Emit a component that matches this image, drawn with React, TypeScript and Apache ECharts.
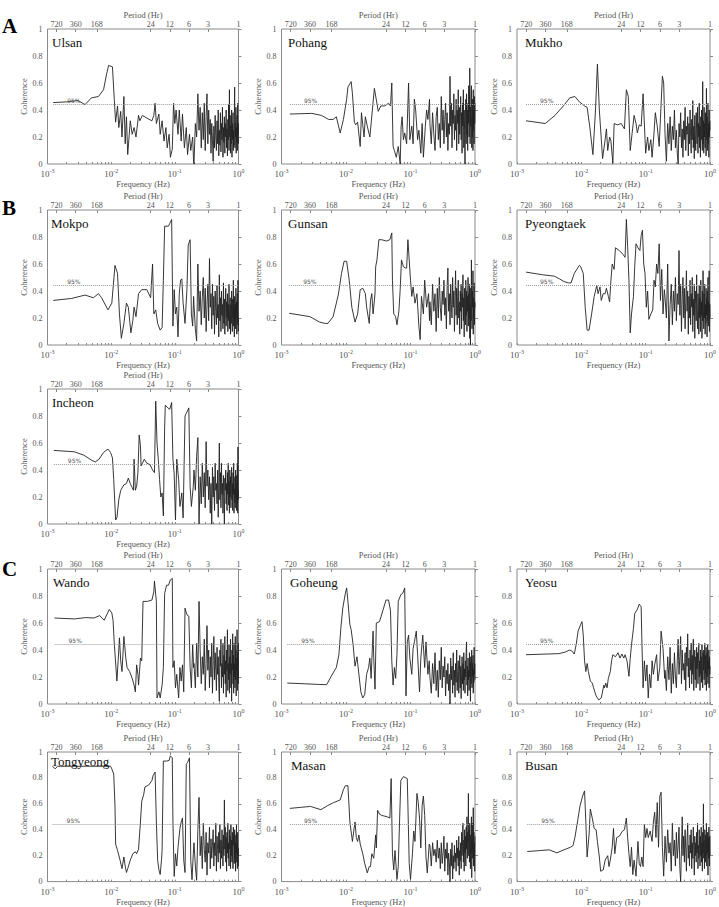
import React, { useEffect, useRef } from "react";
import * as echarts from "echarts";

// Coherence spectra between sea level and wind at Korean tide stations.
// Low-frequency parts are [log10 frequency (Hz), coherence] pairs;
// the high-frequency parts are sampled on a linear 0.01 Hz grid from 0.20 to 1.00 Hz.

const PERIOD_HR = [720, 360, 168, 24, 12, 6, 3, 1];
const FREQ_DECADES = [-3, -2, -1, 0];
const COHERENCE_TICKS = [0, 0.2, 0.4, 0.6, 0.8, 1];
const CONFIDENCE_95 = 0.44;

const DENSE_HZ = Array.from({ length: 81 }, (_, i) => Math.round((0.2 + i * 0.01) * 100) / 100);

const ulsanLow = [[-2.91,0.455],[-2.70,0.46],[-2.52,0.47],[-2.41,0.44],[-2.31,0.49],[-2.20,0.50],[-2.12,0.55],[-2.07,0.67],[-2.04,0.73],[-1.98,0.72],[-1.95,0.47],[-1.93,0.31],[-1.90,0.43],[-1.88,0.27],[-1.85,0.39],[-1.83,0.20],[-1.80,0.50],[-1.78,0.15],[-1.76,0.35],[-1.74,0.07],[-1.70,0.32],[-1.67,0.22],[-1.64,0.27],[-1.61,0.20],[-1.57,0.36],[-1.55,0.32],[-1.51,0.36],[-1.44,0.34],[-1.36,0.32],[-1.33,0.36],[-1.31,0.45],[-1.29,0.30],[-1.25,0.37],[-1.23,0.22],[-1.20,0.32],[-1.17,0.17],[-1.14,0.27],[-1.12,0.12],[-1.09,0.22],[-1.07,0.05],[-1.04,0.11],[-1.02,0.45],[-1.00,0.30],[-0.98,0.40],[-0.95,0.22],[-0.93,0.40],[-0.90,0.17],[-0.88,0.37],[-0.85,0.12],[-0.82,0.27],[-0.80,0.07],[-0.77,0.22],[-0.75,0.10],[-0.72,0.20],[-0.705,0.01]];
const ulsanDense = [
  0.00,0.30,0.20,0.52,0.25,0.42,0.12,0.38,0.18,0.45,
  0.10,0.35,0.52,0.15,0.40,0.22,0.33,0.08,0.30,0.18,
  0.02,0.28,0.12,0.36,0.20,0.10,0.32,0.15,0.40,0.06,
  0.25,0.14,0.38,0.09,0.30,0.18,0.42,0.05,0.27,0.16,
  0.35,0.08,0.30,0.20,0.40,0.12,0.26,0.06,0.33,0.18,
  0.44,0.10,0.55,0.20,0.36,0.08,0.28,0.15,0.40,0.05,
  0.30,0.18,0.38,0.10,0.25,0.14,0.35,0.57,0.12,0.30,
  0.20,0.42,0.08,0.27,0.16,0.36,0.10,0.45,0.22,0.30,
  0.15];

const pohangLow = [[-2.87,0.37],[-2.53,0.375],[-2.38,0.36],[-2.27,0.33],[-2.20,0.33],[-2.15,0.35],[-2.09,0.23],[-2.04,0.33],[-1.99,0.48],[-1.97,0.57],[-1.92,0.61],[-1.90,0.52],[-1.87,0.31],[-1.85,0.29],[-1.82,0.31],[-1.78,0.13],[-1.76,0.38],[-1.72,0.20],[-1.70,0.35],[-1.67,0.28],[-1.63,0.20],[-1.56,0.56],[-1.50,0.39],[-1.46,0.43],[-1.40,0.43],[-1.34,0.45],[-1.31,0.43],[-1.29,0.60],[-1.27,0.13],[-1.25,0.10],[-1.22,0.05],[-1.19,0.13],[-1.16,0.00],[-1.145,0.28],[-1.13,0.35],[-1.11,0.18],[-1.09,0.23],[-1.06,0.15],[-1.03,0.60],[-1.01,0.18],[-0.98,0.28],[-0.96,0.15],[-0.94,0.48],[-0.92,0.40],[-0.89,0.18],[-0.87,0.25],[-0.84,0.08],[-0.82,0.30],[-0.80,0.05],[-0.77,0.28],[-0.75,0.40],[-0.73,0.33],[-0.705,0.48]];
const pohangDense = [
  0.30,0.15,0.38,0.22,0.10,0.35,0.42,0.18,0.30,0.12,
  0.50,0.25,0.40,0.15,0.33,0.45,0.20,0.38,0.10,0.30,
  0.22,0.65,0.28,0.45,0.12,0.40,0.30,0.52,0.18,0.36,
  0.25,0.48,0.10,0.40,0.30,0.55,0.15,0.42,0.22,0.35,
  0.50,0.18,0.38,0.08,0.45,0.28,0.55,0.12,0.40,0.25,
  0.00,0.35,0.48,0.15,0.52,0.22,0.40,0.10,0.45,0.30,
  0.58,0.20,0.38,0.71,0.15,0.42,0.28,0.50,0.58,0.12,
  0.35,0.20,0.48,0.10,0.55,0.25,0.40,0.15,0.50,0.30,
  0.45];

const mukhoLow = [[-2.86,0.32],[-2.56,0.30],[-2.41,0.36],[-2.28,0.43],[-2.18,0.49],[-2.10,0.50],[-2.03,0.46],[-1.95,0.43],[-1.91,0.42],[-1.87,0.28],[-1.82,0.07],[-1.78,0.40],[-1.75,0.74],[-1.72,0.40],[-1.67,0.04],[-1.63,0.18],[-1.61,0.26],[-1.59,0.10],[-1.56,0.20],[-1.54,0.17],[-1.51,0.005],[-1.49,0.30],[-1.44,0.29],[-1.38,0.30],[-1.33,0.26],[-1.30,0.55],[-1.27,0.50],[-1.24,0.10],[-1.21,0.23],[-1.18,0.36],[-1.15,0.30],[-1.13,0.23],[-1.10,0.29],[-1.07,0.28],[-1.04,0.52],[-1.03,0.40],[-1.00,0.08],[-0.97,0.20],[-0.95,0.10],[-0.92,0.18],[-0.90,0.05],[-0.87,0.23],[-0.85,0.38],[-0.82,0.28],[-0.79,0.13],[-0.77,0.34],[-0.74,0.65],[-0.72,0.60],[-0.705,0.33]];
const mukhoDense = [
  0.22,0.02,0.30,0.15,0.35,0.10,0.28,0.18,0.40,0.12,
  0.25,0.08,0.00,0.30,0.20,0.38,0.12,0.26,0.05,0.32,
  0.18,0.42,0.10,0.28,0.22,0.35,0.06,0.30,0.15,0.40,
  0.20,0.08,0.33,0.18,0.47,0.12,0.28,0.04,0.36,0.22,
  0.10,0.38,0.25,0.15,0.42,0.08,0.30,0.20,0.45,0.12,
  0.28,0.05,0.35,0.18,0.40,0.22,0.10,0.61,0.15,0.32,
  0.08,0.42,0.20,0.30,0.12,0.38,0.25,0.06,0.56,0.18,
  0.35,0.10,0.28,0.45,0.15,0.30,0.05,0.40,0.20,0.32,
  0.25];

const mokpoLow = [[-2.91,0.33],[-2.62,0.345],[-2.41,0.37],[-2.28,0.35],[-2.20,0.38],[-2.15,0.35],[-2.05,0.26],[-1.99,0.31],[-1.94,0.59],[-1.90,0.53],[-1.87,0.23],[-1.84,0.05],[-1.80,0.16],[-1.76,0.31],[-1.73,0.28],[-1.69,0.09],[-1.66,0.18],[-1.64,0.28],[-1.61,0.21],[-1.57,0.38],[-1.52,0.41],[-1.44,0.41],[-1.38,0.35],[-1.35,0.60],[-1.33,0.23],[-1.30,0.26],[-1.27,0.16],[-1.23,0.11],[-1.20,0.13],[-1.18,0.48],[-1.16,0.88],[-1.10,0.88],[-1.08,0.90],[-1.05,0.93],[-1.03,0.14],[-1.01,0.41],[-0.99,0.23],[-0.97,0.28],[-0.95,0.06],[-0.93,0.38],[-0.91,0.48],[-0.89,0.49],[-0.87,0.31],[-0.84,0.16],[-0.81,0.41],[-0.79,0.74],[-0.76,0.78],[-0.74,0.23],[-0.72,0.14],[-0.705,0.36]];
const mokpoDense = [
  0.30,0.12,0.03,0.60,0.25,0.40,0.15,0.35,0.50,0.20,
  0.42,0.10,0.30,0.45,0.18,0.64,0.28,0.38,0.12,0.45,
  0.22,0.36,0.08,0.40,0.25,0.15,0.44,0.20,0.30,0.06,
  0.52,0.18,0.35,0.10,0.40,0.22,0.30,0.12,0.46,0.16,
  0.34,0.08,0.28,0.42,0.14,0.32,0.20,0.38,0.10,0.30,
  0.18,0.45,0.12,0.26,0.35,0.08,0.30,0.16,0.40,0.22,
  0.10,0.34,0.20,0.48,0.14,0.28,0.06,0.36,0.18,0.30,
  0.12,0.42,0.20,0.32,0.08,0.26,0.38,0.15,0.48,0.10,
  0.20];

const gunsanLow = [[-2.88,0.235],[-2.56,0.21],[-2.41,0.17],[-2.33,0.16],[-2.28,0.16],[-2.20,0.21],[-2.12,0.37],[-2.07,0.53],[-2.03,0.62],[-1.99,0.62],[-1.95,0.48],[-1.91,0.28],[-1.86,0.17],[-1.82,0.23],[-1.78,0.41],[-1.74,0.42],[-1.70,0.38],[-1.68,0.28],[-1.64,0.16],[-1.62,0.33],[-1.60,0.38],[-1.58,0.23],[-1.55,0.38],[-1.54,0.58],[-1.52,0.63],[-1.49,0.78],[-1.45,0.78],[-1.37,0.77],[-1.32,0.78],[-1.29,0.83],[-1.28,0.48],[-1.26,0.23],[-1.23,0.21],[-1.21,0.15],[-1.18,0.25],[-1.16,0.41],[-1.14,0.63],[-1.11,0.58],[-1.08,0.57],[-1.06,0.57],[-1.04,0.78],[-1.02,0.63],[-1.00,0.48],[-0.98,0.36],[-0.96,0.43],[-0.93,0.31],[-0.90,0.38],[-0.87,0.14],[-0.85,0.04],[-0.83,0.36],[-0.80,0.23],[-0.78,0.48],[-0.75,0.28],[-0.72,0.38],[-0.705,0.18]];
const gunsanDense = [
  0.32,0.15,0.45,0.25,0.38,0.10,0.42,0.20,0.50,0.28,
  0.18,0.40,0.30,0.48,0.22,0.35,0.12,0.44,0.57,0.25,
  0.38,0.15,0.45,0.30,0.20,0.50,0.28,0.40,0.10,0.35,
  0.55,0.22,0.42,0.15,0.36,0.48,0.20,0.32,0.08,0.40,
  0.25,0.45,0.12,0.38,0.28,0.52,0.18,0.35,0.06,0.42,
  0.30,0.15,0.48,0.22,0.40,0.10,0.36,0.25,0.50,0.14,
  0.38,0.20,0.45,0.05,0.30,0.00,0.42,0.18,0.63,0.25,
  0.12,0.40,0.28,0.55,0.08,0.35,0.20,0.46,0.15,0.32,
  0.28];

const pyeongtaekLow = [[-2.86,0.54],[-2.60,0.52],[-2.42,0.51],[-2.34,0.49],[-2.27,0.47],[-2.20,0.46],[-2.16,0.46],[-2.11,0.53],[-2.03,0.59],[-2.01,0.58],[-1.97,0.53],[-1.94,0.28],[-1.91,0.11],[-1.88,0.11],[-1.84,0.23],[-1.80,0.36],[-1.76,0.44],[-1.74,0.38],[-1.71,0.43],[-1.69,0.33],[-1.66,0.38],[-1.63,0.38],[-1.61,0.42],[-1.58,0.36],[-1.56,0.32],[-1.54,0.48],[-1.52,0.60],[-1.49,0.56],[-1.47,0.72],[-1.41,0.70],[-1.35,0.67],[-1.32,0.65],[-1.30,0.93],[-1.28,0.73],[-1.26,0.48],[-1.24,0.09],[-1.22,0.23],[-1.19,0.36],[-1.17,0.58],[-1.15,0.75],[-1.12,0.72],[-1.09,0.70],[-1.07,0.81],[-1.05,0.85],[-1.03,0.60],[-1.01,0.53],[-0.99,0.28],[-0.97,0.40],[-0.95,0.19],[-0.92,0.23],[-0.89,0.26],[-0.87,0.48],[-0.85,0.43],[-0.83,0.60],[-0.81,0.53],[-0.79,0.75],[-0.77,0.33],[-0.75,0.56],[-0.73,0.23],[-0.71,0.41]];
const pyeongtaekDense = [
  0.35,0.20,0.60,0.03,0.30,0.45,0.15,0.40,0.25,0.50,
  0.18,0.38,0.30,0.70,0.22,0.45,0.10,0.35,0.50,0.20,
  0.42,0.12,0.32,0.55,0.25,0.40,0.08,0.36,0.20,0.48,
  0.15,0.38,0.28,0.50,0.10,0.34,0.22,0.45,0.05,0.30,
  0.40,0.18,0.52,0.25,0.12,0.38,0.30,0.08,0.44,0.20,
  0.35,0.10,0.48,0.22,0.32,0.05,0.40,0.18,0.55,0.26,
  0.12,0.38,0.20,0.45,0.08,0.30,0.16,0.42,0.22,0.35,
  0.06,0.40,0.18,0.50,0.14,0.32,0.25,0.55,0.10,0.30,
  0.20];

const incheonLow = [[-2.90,0.545],[-2.58,0.535],[-2.43,0.51],[-2.30,0.47],[-2.25,0.46],[-2.19,0.48],[-2.12,0.53],[-2.05,0.555],[-2.01,0.53],[-1.98,0.49],[-1.96,0.33],[-1.93,0.03],[-1.91,0.045],[-1.88,0.18],[-1.85,0.25],[-1.80,0.29],[-1.76,0.30],[-1.73,0.34],[-1.70,0.30],[-1.67,0.27],[-1.65,0.25],[-1.64,0.48],[-1.62,0.25],[-1.60,0.28],[-1.58,0.38],[-1.56,0.66],[-1.54,0.58],[-1.53,0.43],[-1.51,0.45],[-1.48,0.48],[-1.44,0.45],[-1.39,0.44],[-1.35,0.40],[-1.32,0.38],[-1.30,0.91],[-1.28,0.60],[-1.26,0.48],[-1.24,0.33],[-1.22,0.20],[-1.20,0.23],[-1.18,0.06],[-1.16,0.72],[-1.15,0.88],[-1.11,0.86],[-1.08,0.85],[-1.05,0.90],[-1.03,0.48],[-1.01,0.37],[-0.99,0.03],[-0.97,0.48],[-0.94,0.33],[-0.92,0.13],[-0.89,0.23],[-0.87,0.045],[-0.84,0.80],[-0.82,0.82],[-0.78,0.86],[-0.76,0.28],[-0.74,0.13],[-0.71,0.28]];
const incheonDense = [
  0.40,0.25,0.50,0.64,0.00,0.35,0.15,0.45,0.20,0.38,
  0.12,0.61,0.28,0.40,0.18,0.35,0.08,0.30,0.00,0.42,
  0.20,0.35,0.10,0.45,0.25,0.30,0.15,0.40,0.05,0.32,
  0.60,0.18,0.38,0.12,0.45,0.22,0.30,0.08,0.36,0.20,
  0.00,0.34,0.25,0.40,0.15,0.30,0.10,0.38,0.22,0.45,
  0.14,0.32,0.08,0.40,0.20,0.35,0.12,0.28,0.42,0.18,
  0.30,0.10,0.38,0.22,0.45,0.08,0.26,0.16,0.35,0.12,
  0.40,0.20,0.30,0.10,0.36,0.15,0.45,0.08,0.57,0.18,
  0.25];

const wandoLow = [[-2.89,0.637],[-2.58,0.63],[-2.40,0.64],[-2.27,0.637],[-2.18,0.655],[-2.11,0.62],[-2.03,0.70],[-1.99,0.675],[-1.97,0.62],[-1.95,0.44],[-1.91,0.17],[-1.89,0.32],[-1.87,0.49],[-1.85,0.32],[-1.83,0.24],[-1.80,0.50],[-1.77,0.34],[-1.75,0.27],[-1.71,0.24],[-1.67,0.19],[-1.64,0.14],[-1.62,0.09],[-1.60,0.29],[-1.58,0.22],[-1.57,0.14],[-1.54,0.34],[-1.52,0.32],[-1.50,0.76],[-1.43,0.76],[-1.36,0.77],[-1.33,0.83],[-1.32,0.91],[-1.29,0.76],[-1.28,0.045],[-1.25,0.09],[-1.23,0.045],[-1.20,0.14],[-1.18,0.27],[-1.16,0.82],[-1.13,0.88],[-1.10,0.88],[-1.07,0.92],[-1.04,0.93],[-1.03,0.27],[-1.01,0.32],[-0.99,0.12],[-0.97,0.22],[-0.94,0.045],[-0.92,0.27],[-0.90,0.17],[-0.88,0.29],[-0.86,0.09],[-0.84,0.71],[-0.81,0.66],[-0.78,0.65],[-0.76,0.27],[-0.74,0.12],[-0.72,0.44],[-0.705,0.27]];
const wandoDense = [
  0.30,0.12,0.45,0.20,0.76,0.40,0.15,0.35,0.22,0.48,
  0.10,0.30,0.58,0.25,0.40,0.12,0.35,0.20,0.45,0.08,
  0.32,0.50,0.18,0.38,0.25,0.10,0.42,0.22,0.35,0.15,
  0.02,0.40,0.28,0.48,0.12,0.30,0.20,0.45,0.08,0.36,
  0.22,0.50,0.15,0.32,0.05,0.40,0.25,0.55,0.10,0.30,
  0.18,0.44,0.08,0.35,0.22,0.48,0.12,0.30,0.02,0.40,
  0.25,0.52,0.15,0.36,0.08,0.45,0.20,0.30,0.12,0.50,
  0.18,0.40,0.06,0.34,0.25,0.55,0.10,0.38,0.20,0.45,
  0.15];

const goheungLow = [[-2.91,0.155],[-2.64,0.15],[-2.43,0.145],[-2.30,0.143],[-2.23,0.205],[-2.15,0.27],[-2.11,0.365],[-2.08,0.56],[-2.05,0.71],[-2.01,0.82],[-1.99,0.86],[-1.97,0.76],[-1.94,0.59],[-1.92,0.55],[-1.89,0.44],[-1.86,0.28],[-1.83,0.35],[-1.80,0.22],[-1.77,0.09],[-1.74,0.045],[-1.71,0.07],[-1.68,0.22],[-1.65,0.27],[-1.63,0.34],[-1.61,0.19],[-1.60,0.32],[-1.58,0.54],[-1.57,0.34],[-1.55,0.11],[-1.53,0.60],[-1.48,0.61],[-1.43,0.69],[-1.38,0.77],[-1.34,0.77],[-1.31,0.69],[-1.29,0.32],[-1.27,0.14],[-1.25,0.27],[-1.23,0.19],[-1.21,0.365],[-1.19,0.76],[-1.15,0.81],[-1.12,0.82],[-1.09,0.86],[-1.07,0.06],[-1.05,0.46],[-1.03,0.51],[-1.01,0.34],[-0.98,0.22],[-0.96,0.41],[-0.94,0.46],[-0.91,0.54],[-0.89,0.365],[-0.86,0.09],[-0.84,0.34],[-0.81,0.51],[-0.78,0.27],[-0.76,0.46],[-0.73,0.22],[-0.71,0.32]];
const goheungDense = [
  0.20,0.08,0.30,0.15,0.38,0.10,0.25,0.05,0.32,0.18,
  0.42,0.12,0.28,0.20,0.35,0.06,0.25,0.15,0.30,0.10,
  0.22,0.00,0.34,0.18,0.28,0.08,0.38,0.14,0.25,0.05,
  0.30,0.16,0.40,0.10,0.24,0.32,0.08,0.20,0.36,0.12,
  0.28,0.04,0.22,0.35,0.15,0.30,0.10,0.38,0.18,0.26,
  0.08,0.32,0.20,0.40,0.46,0.14,0.28,0.06,0.34,0.18,
  0.25,0.10,0.38,0.20,0.30,0.02,0.35,0.15,0.28,0.40,
  0.12,0.30,0.20,0.36,0.08,0.26,0.16,0.42,0.22,0.30,
  0.18];

const yeosuLow = [[-2.86,0.365],[-2.55,0.37],[-2.35,0.373],[-2.25,0.385],[-2.18,0.40],[-2.14,0.39],[-2.11,0.37],[-2.08,0.44],[-2.05,0.54],[-2.01,0.59],[-1.99,0.61],[-1.97,0.51],[-1.95,0.32],[-1.93,0.24],[-1.91,0.30],[-1.89,0.24],[-1.86,0.17],[-1.83,0.155],[-1.81,0.12],[-1.77,0.06],[-1.73,0.03],[-1.69,0.045],[-1.65,0.14],[-1.64,0.12],[-1.62,0.155],[-1.60,0.12],[-1.58,0.19],[-1.55,0.24],[-1.53,0.32],[-1.51,0.365],[-1.47,0.35],[-1.43,0.38],[-1.40,0.34],[-1.37,0.37],[-1.34,0.34],[-1.32,0.365],[-1.29,0.32],[-1.26,0.205],[-1.24,0.34],[-1.22,0.44],[-1.19,0.56],[-1.17,0.67],[-1.13,0.70],[-1.10,0.74],[-1.07,0.72],[-1.06,0.49],[-1.04,0.12],[-1.02,0.32],[-1.00,0.17],[-0.98,0.29],[-0.96,0.045],[-0.94,0.22],[-0.92,0.12],[-0.90,0.32],[-0.88,0.22],[-0.86,0.29],[-0.83,0.365],[-0.81,0.17],[-0.78,0.27],[-0.76,0.54],[-0.73,0.41],[-0.705,0.19]];
const yeosuDense = [
  0.25,0.10,0.35,0.18,0.42,0.08,0.30,0.15,0.38,0.20,
  0.12,0.32,0.48,0.22,0.35,0.50,0.15,0.40,0.25,0.30,
  0.18,0.38,0.10,0.42,0.28,0.52,0.20,0.34,0.12,0.40,
  0.25,0.45,0.15,0.36,0.22,0.48,0.10,0.30,0.40,0.18,
  0.35,0.12,0.42,0.26,0.38,0.15,0.30,0.45,0.20,0.32,
  0.10,0.40,0.22,0.35,0.16,0.44,0.28,0.12,0.38,0.25,
  0.40,0.18,0.32,0.45,0.14,0.36,0.22,0.42,0.10,0.30,
  0.38,0.20,0.44,0.15,0.32,0.26,0.40,0.12,0.35,0.22,
  0.28];

const tongyeongLow = [[-2.92,0.89],[-2.88,0.87],[-2.84,0.89],[-2.43,0.89],[-2.01,0.89],[-1.99,0.87],[-1.96,0.83],[-1.94,0.585],[-1.93,0.29],[-1.90,0.24],[-1.86,0.165],[-1.83,0.10],[-1.80,0.19],[-1.78,0.12],[-1.76,0.07],[-1.74,0.10],[-1.70,0.165],[-1.66,0.215],[-1.62,0.23],[-1.60,0.215],[-1.57,0.25],[-1.54,0.46],[-1.52,0.62],[-1.49,0.67],[-1.47,0.73],[-1.41,0.745],[-1.36,0.78],[-1.34,0.82],[-1.31,0.845],[-1.29,0.46],[-1.27,0.165],[-1.25,0.09],[-1.23,0.055],[-1.21,0.165],[-1.20,0.24],[-1.18,0.93],[-1.13,0.93],[-1.09,0.935],[-1.07,0.97],[-1.04,0.955],[-1.03,0.46],[-1.01,0.04],[-0.99,0.215],[-0.97,0.12],[-0.95,0.265],[-0.92,0.41],[-0.90,0.46],[-0.88,0.49],[-0.86,0.165],[-0.84,0.07],[-0.82,0.905],[-0.80,0.92],[-0.77,0.955],[-0.75,0.165],[-0.73,0.015],[-0.71,0.215]];
const tongyeongDense = [
  0.30,0.12,0.01,0.40,0.65,0.20,0.35,0.10,0.45,0.25,
  0.15,0.38,0.05,0.30,0.22,0.42,0.10,0.33,0.18,0.28,
  0.40,0.12,0.30,0.20,0.45,0.08,0.35,0.25,0.15,0.38,
  0.22,0.44,0.10,0.32,0.18,0.40,0.28,0.12,0.36,0.20,
  0.63,0.25,0.42,0.15,0.34,0.08,0.38,0.22,0.45,0.18,
  0.30,0.12,0.40,0.25,0.35,0.10,0.44,0.20,0.32,0.15,
  0.38,0.22,0.10,0.42,0.28,0.35,0.14,0.40,0.18,0.30,
  0.08,0.36,0.22,0.44,0.15,0.30,0.10,0.38,0.20,0.26,
  0.12];

const masanLow = [[-2.87,0.565],[-2.70,0.573],[-2.55,0.58],[-2.39,0.555],[-2.29,0.585],[-2.19,0.61],[-2.09,0.63],[-2.04,0.71],[-2.01,0.74],[-1.97,0.74],[-1.94,0.46],[-1.90,0.31],[-1.88,0.39],[-1.86,0.46],[-1.84,0.34],[-1.82,0.31],[-1.80,0.36],[-1.78,0.29],[-1.74,0.215],[-1.71,0.14],[-1.67,0.067],[-1.64,0.116],[-1.62,0.116],[-1.60,0.215],[-1.57,0.18],[-1.54,0.36],[-1.53,0.26],[-1.51,0.55],[-1.48,0.52],[-1.44,0.51],[-1.36,0.50],[-1.32,0.49],[-1.30,0.795],[-1.28,0.215],[-1.26,0.09],[-1.24,0.24],[-1.21,0.017],[-1.19,0.116],[-1.17,0.46],[-1.15,0.78],[-1.11,0.81],[-1.05,0.795],[-1.04,0.585],[-1.02,0.14],[-1.00,0.017],[-0.97,0.215],[-0.95,0.39],[-0.93,0.31],[-0.90,0.68],[-0.88,0.61],[-0.86,0.49],[-0.84,0.26],[-0.82,0.585],[-0.80,0.66],[-0.78,0.51],[-0.76,0.19],[-0.74,0.067],[-0.71,0.29]];
const masanDense = [
  0.28,0.12,0.30,0.20,0.25,0.15,0.32,0.18,0.26,0.10,
  0.30,0.14,0.22,0.35,0.08,0.25,0.18,0.30,0.05,0.22,
  0.15,0.00,0.25,0.12,0.30,0.02,0.20,0.10,0.28,0.15,
  0.22,0.08,0.32,0.18,0.26,0.12,0.35,0.05,0.24,0.16,
  0.30,0.10,0.38,0.20,0.28,0.45,0.15,0.32,0.08,0.40,
  0.22,0.35,0.12,0.42,0.25,0.50,0.18,0.38,0.30,0.68,
  0.20,0.40,0.15,0.45,0.28,0.10,0.36,0.22,0.50,0.03,
  0.32,0.18,0.45,0.25,0.57,0.12,0.38,0.20,0.30,0.08,
  0.35];

const busanLow = [[-2.84,0.232],[-2.63,0.24],[-2.50,0.245],[-2.38,0.222],[-2.27,0.245],[-2.17,0.265],[-2.13,0.277],[-2.10,0.34],[-2.06,0.46],[-2.02,0.585],[-1.98,0.66],[-1.95,0.70],[-1.93,0.46],[-1.91,0.19],[-1.88,0.36],[-1.86,0.56],[-1.83,0.49],[-1.80,0.41],[-1.77,0.40],[-1.75,0.31],[-1.72,0.19],[-1.70,0.08],[-1.66,0.09],[-1.63,0.165],[-1.59,0.20],[-1.57,0.116],[-1.55,0.165],[-1.52,0.265],[-1.50,0.41],[-1.48,0.215],[-1.45,0.34],[-1.41,0.35],[-1.36,0.39],[-1.33,0.40],[-1.30,0.49],[-1.28,0.34],[-1.26,0.215],[-1.24,0.116],[-1.22,0.265],[-1.20,0.054],[-1.18,0.165],[-1.15,0.042],[-1.12,0.31],[-1.10,0.14],[-1.08,0.116],[-1.06,0.19],[-1.04,0.116],[-1.02,0.44],[-1.00,0.34],[-0.98,0.41],[-0.96,0.34],[-0.93,0.39],[-0.90,0.31],[-0.88,0.46],[-0.86,0.535],[-0.84,0.34],[-0.82,0.61],[-0.80,0.265],[-0.78,0.66],[-0.76,0.69],[-0.74,0.265],[-0.72,0.042]];
const busanDense = [
  0.35,0.15,0.40,0.22,0.30,0.08,0.45,0.20,0.32,0.12,
  0.38,0.18,0.28,0.42,0.10,0.00,0.25,0.50,0.20,0.35,
  0.15,0.40,0.25,0.08,0.32,0.45,0.18,0.28,0.12,0.36,
  0.22,0.40,0.10,0.30,0.18,0.42,0.25,0.05,0.35,0.20,
  0.30,0.15,0.38,0.22,0.45,0.10,0.28,0.18,0.40,0.25,
  0.12,0.35,0.20,0.42,0.15,0.30,0.08,0.38,0.22,0.60,
  0.18,0.32,0.10,0.40,0.25,0.15,0.36,0.20,0.45,0.12,
  0.30,0.22,0.38,0.05,0.34,0.18,0.42,0.25,0.12,0.35,
  0.20];

// Page layout: three columns, five rows of panels.
const COL_LEFT = [47.5, 281.5, 517];
const COL_WIDTH = [191, 193.5, 194];
const ROW_TOP = [29, 210, 389, 569, 752];
const ROW_HEIGHT = 135;

const panels = [
  { name: "Ulsan", low: ulsanLow, dense: ulsanDense, row: 0, col: 0, nameX: 52, nameDy: 13.5 },
  { name: "Pohang", low: pohangLow, dense: pohangDense, row: 0, col: 1, nameX: 288, nameDy: 13.5 },
  { name: "Mukho", low: mukhoLow, dense: mukhoDense, row: 0, col: 2, nameX: 525, nameDy: 13.5 },
  { name: "Mokpo", low: mokpoLow, dense: mokpoDense, row: 1, col: 0, nameX: 51, nameDy: 13.5 },
  { name: "Gunsan", low: gunsanLow, dense: gunsanDense, row: 1, col: 1, nameX: 288, nameDy: 13.5 },
  { name: "Pyeongtaek", low: pyeongtaekLow, dense: pyeongtaekDense, row: 1, col: 2, nameX: 525, nameDy: 13.5 },
  { name: "Incheon", low: incheonLow, dense: incheonDense, row: 2, col: 0, nameX: 52, nameDy: 13.5 },
  { name: "Wando", low: wandoLow, dense: wandoDense, row: 3, col: 0, nameX: 53, nameDy: 13.5 },
  { name: "Goheung", low: goheungLow, dense: goheungDense, row: 3, col: 1, nameX: 290, nameDy: 13.5 },
  { name: "Yeosu", low: yeosuLow, dense: yeosuDense, row: 3, col: 2, nameX: 525, nameDy: 13.5 },
  { name: "Tongyeong", low: tongyeongLow, dense: tongyeongDense, row: 4, col: 0, nameX: 51, nameDy: 9 },
  { name: "Masan", low: masanLow, dense: masanDense, row: 4, col: 1, nameX: 291, nameDy: 13.5 },
  { name: "Busan", low: busanLow, dense: busanDense, row: 4, col: 2, nameX: 525, nameDy: 13.5 },
];

const groupLetters = [
  { text: "A", x: 2, y: 25.5 },
  { text: "B", x: 2, y: 207.5 },
  { text: "C", x: 2, y: 568.5 },
];

const SERIF = '"Liberation Serif", "Times New Roman", serif';
const AXIS_TEXT = "#555";
const FRAME = "#8a8a8a";

// bottom-axis ticks: decades plus 2..9 minor ticks on the log scale
const freqTicks: number[] = [];
FREQ_DECADES.slice(0, -1).forEach((e) => {
  for (let k = 1; k <= 9; k++) freqTicks.push(e + Math.log10(k));
});
freqTicks.push(0);
const periodPositions = PERIOD_HR.map((p) => -Math.log10(p));

function buildOption() {
  const grid: any[] = [];
  const xAxis: any[] = [];
  const yAxis: any[] = [];
  const series: any[] = [];

  panels.forEach((p, i) => {
    grid.push({
      left: COL_LEFT[p.col],
      top: ROW_TOP[p.row],
      width: COL_WIDTH[p.col],
      height: ROW_HEIGHT,
      show: true,
      borderColor: FRAME,
      borderWidth: 1,
      backgroundColor: "transparent",
    });
    xAxis.push({
      type: "value",
      gridIndex: i,
      position: "bottom",
      min: -3,
      max: 0,
      axisLine: { show: false },
      splitLine: { show: false },
      axisTick: { inside: true, length: 2, customValues: freqTicks, lineStyle: { color: FRAME } },
      axisLabel: {
        customValues: FREQ_DECADES,
        margin: 4,
        formatter: (v: number) => `{b|10}{s|${v}}`,
        rich: {
          b: { fontSize: 9, fontFamily: SERIF, color: AXIS_TEXT, lineHeight: 12 },
          s: { fontSize: 6, fontFamily: SERIF, color: AXIS_TEXT, verticalAlign: "top", lineHeight: 8 },
        },
      },
      name: "Frequency (Hz)",
      nameLocation: "middle",
      nameGap: 15,
      nameTextStyle: { fontSize: 8.5, fontFamily: SERIF, color: AXIS_TEXT },
    });
    xAxis.push({
      type: "value",
      gridIndex: i,
      position: "top",
      min: -3,
      max: 0,
      axisLine: { show: false },
      splitLine: { show: false },
      axisTick: { inside: true, length: 3, customValues: periodPositions, lineStyle: { color: FRAME } },
      axisLabel: {
        customValues: periodPositions,
        margin: 1,
        fontSize: 8,
        fontFamily: SERIF,
        color: AXIS_TEXT,
        formatter: (v: number) => String(Math.round(Math.pow(10, -v))),
      },
      name: "Period (Hr)",
      nameLocation: "middle",
      nameGap: 10,
      nameTextStyle: { fontSize: 8.5, fontFamily: SERIF, color: AXIS_TEXT },
    });
    yAxis.push({
      type: "value",
      gridIndex: i,
      min: 0,
      max: 1,
      interval: 0.2,
      axisLine: { show: false },
      splitLine: { show: false },
      axisTick: { inside: true, length: 3, lineStyle: { color: FRAME } },
      axisLabel: {
        customValues: COHERENCE_TICKS,
        margin: 5,
        fontSize: 8,
        fontFamily: SERIF,
        color: AXIS_TEXT,
        formatter: (v: number) => (v === 0 ? "0" : v === 1 ? "1" : v.toFixed(1)),
      },
      name: "Coherence",
      nameLocation: "middle",
      nameGap: 12,
      nameTextStyle: { fontSize: 8.5, fontFamily: SERIF, color: AXIS_TEXT },
    });

    const data = p.low.concat(p.dense.map((v, k) => [Math.log10(DENSE_HZ[k]), v]));
    const start = p.low[0][0];
    series.push({
      type: "line",
      xAxisIndex: i * 2,
      yAxisIndex: i,
      data,
      symbol: "none",
      lineStyle: { color: "#222", width: 0.9 },
      silent: true,
      markLine: {
        silent: true,
        symbol: "none",
        lineStyle: { type: "dotted", color: "#9a9a9a", width: 1 },
        label: {
          show: true,
          formatter: "95%",
          position: "insideStartTop",
          fontSize: 6,
          fontFamily: "DejaVu Sans, sans-serif",
          color: "#555",
          distance: [14, 1],
        },
        data: [[{ coord: [start, CONFIDENCE_95] }, { coord: [0, CONFIDENCE_95] }]],
      },
    });
  });

  const graphic: any[] = [
    ...groupLetters.map((g) => ({
      type: "text",
      x: g.x,
      y: g.y,
      z: 100,
      style: { text: g.text, font: `bold 21px ${SERIF}`, fill: "#000", verticalAlign: "middle" },
    })),
    ...panels.map((p) => ({
      type: "text",
      x: p.nameX,
      y: ROW_TOP[p.row] + p.nameDy,
      z: 100,
      style: { text: p.name, font: `13px ${SERIF}`, fill: "#111", verticalAlign: "middle" },
    })),
  ];

  return { animation: false, backgroundColor: "#fff", grid, xAxis, yAxis, series, graphic };
}

export default function App() {
  const ref = useRef<HTMLDivElement>(null);
  useEffect(() => {
    if (!ref.current) return;
    const chart = echarts.init(ref.current, null, { renderer: "svg" });
    chart.setOption(buildOption());
    return () => chart.dispose();
  }, []);
  return <div ref={ref} style={{ position: "absolute", left: 0, top: 0, width: 719, height: 907 }} />;
}
